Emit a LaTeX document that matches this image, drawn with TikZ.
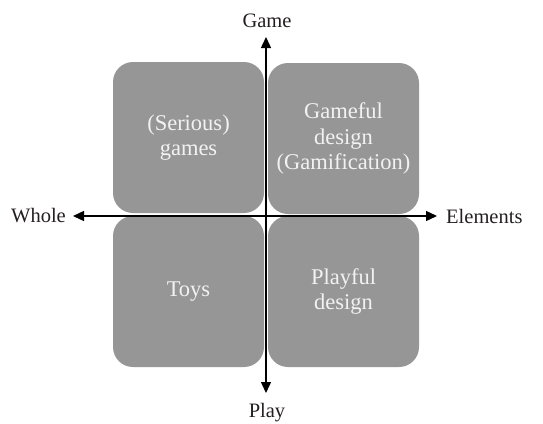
\documentclass[tikz,border=0pt]{standalone}
\usepackage{fontspec}
\setmainfont{Liberation Serif}
\usetikzlibrary{arrows.meta}
\definecolor{boxgray}{HTML}{969696}
\definecolor{boxtext}{HTML}{F2F2F2}
\definecolor{labtext}{HTML}{231F20}
\tikzset{
  quad/.style={fill=boxgray, draw=none, rounded corners=20pt, minimum width=151pt, minimum height=151pt, inner sep=0pt, align=center, text=boxtext, font=\fontsize{22.5}{25.5}\selectfont},
  axislabel/.style={text=labtext, font=\fontsize{20.5}{24}\selectfont, inner sep=0pt},
  axis/.style={line width=1.4pt, draw=black, -{Triangle[length=11pt,width=10pt]}}
}
\begin{document}
\begin{tikzpicture}[x=1pt,y=-1pt]
\useasboundingbox (0,0) rectangle (543,423);
\node[quad] (serious) at (188.5,137.5) {(Serious)\\games};
\node[quad] (gameful) at (343.5,138.5) {Gameful\\design\\(Gamification)};
\node[quad] (toys) at (188.5,291.5) {Toys};
\node[quad] (playful) at (343.5,291.5) {Playful\\design};
\coordinate (o) at (266,216);
\coordinate (top) at (266,37);
\coordinate (bot) at (266,393);
\coordinate (left) at (73,216);
\coordinate (right) at (437,216);
\draw[axis] (o) -- (top);
\draw[axis] (o) -- (bot);
\draw[axis] (o) -- (left);
\draw[axis] (o) -- (right);
\node[axislabel] (game) at (267,21) {Game};
\node[axislabel] (play) at (267,413) {Play};
\node[axislabel, anchor=east] (whole) at (66,216) {Whole};
\node[axislabel, anchor=west] (elements) at (446,216) {Elements};
\end{tikzpicture}
\end{document}
